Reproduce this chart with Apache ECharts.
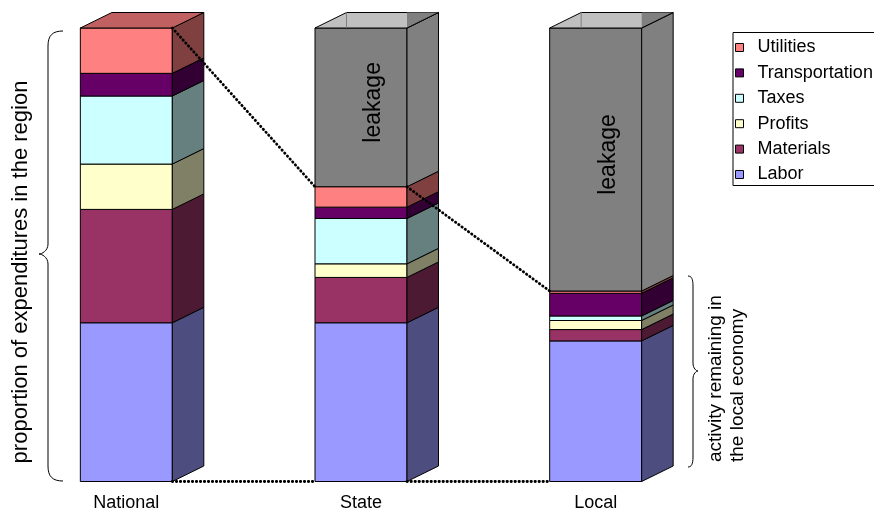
<!DOCTYPE html>
<html>
<head>
<meta charset="utf-8">
<script src="https://cdn.jsdelivr.net/npm/echarts@6/dist/echarts.min.js"></script>
<style>
html,body{margin:0;padding:0;background:#fff;}
#main{width:874px;height:512px;}
</style>
</head>
<body>
<div id="main"></div>
<script>
// values in percent of regional expenditure
var regions = ['National', 'State', 'Local'];
var labor = [35, 35, 31];
var materials = [25, 10, 2.5];
var profits = [10, 3, 2];
var taxes = [15, 10, 1];
var transportation = [5, 2.5, 5];
var utilities = [10, 4.5, 0.5];
var leakage = [0, 35, 58];
var legendNames = ['Utilities', 'Transportation', 'Taxes', 'Profits', 'Materials', 'Labor'];

var FONT = 'Liberation Sans';
var DX = 31.5, DY = 15.5;   // 3d depth offset
var BAR = 0.392;            // bar width / band

// bottom -> top
var stack = [
    {name: 'Labor', values: labor, front: '#9999FF', side: '#4D4D80', top: '#7373BF'},
    {name: 'Materials', values: materials, front: '#993366', side: '#4D1A33', top: '#73264D'},
    {name: 'Profits', values: profits, front: '#FFFFCC', side: '#808066', top: '#BFBF99'},
    {name: 'Taxes', values: taxes, front: '#CCFFFF', side: '#668080', top: '#99BFBF'},
    {name: 'Transportation', values: transportation, front: '#660066', side: '#330033', top: '#4D004D'},
    {name: 'Utilities', values: utilities, front: '#FF8080', side: '#804040', top: '#C06060'},
    {name: 'leakage', values: leakage, front: '#808080', side: '#808080', top: '#C0C0C0', leak: true}
];

var totals = regions.map(function (r, i) {
    return stack.reduce(function (s, k) { return s + k.values[i]; }, 0);
});
var kept = regions.map(function (r, i) { return totals[i] - leakage[i]; });

function boxRender(k) {
    return function (params, api) {
        var ci = api.value(0), lo = api.value(1), hi = api.value(2), tot = api.value(3);
        if (hi - lo <= 0) return;
        var p0 = api.coord([ci, lo]), p1 = api.coord([ci, hi]);
        var bw = api.size([1, 0])[0] * BAR;
        var xl = p0[0] - bw / 2, xr = p0[0] + bw / 2;
        var yb = p0[1], yt = p1[1];
        var kids = [
            {type: 'polygon', shape: {points: [[xl, yt], [xr, yt], [xr, yb], [xl, yb]]},
                style: {fill: k.front, stroke: '#000', lineWidth: 1}},
            {type: 'polygon', shape: {points: [[xr, yt], [xr + DX, yt - DY], [xr + DX, yb - DY], [xr, yb]]},
                style: {fill: k.side, stroke: '#000', lineWidth: 1}}
        ];
        if (hi >= tot - 1e-6) {
            kids.push({type: 'polygon', shape: {points: [[xl, yt], [xl + DX, yt - DY], [xr + DX, yt - DY], [xr, yt]]},
                style: {fill: k.top, stroke: '#000', lineWidth: 1}});
            if (k.leak) {
                kids.push({type: 'polygon', shape: {points: [[xr, yt - DY], [xr + DX, yt - DY], [xr, yt]]},
                    style: {fill: k.side}});
                kids.push({type: 'line', shape: {x1: xl + DX, y1: yt - DY, x2: xl + DX, y2: yt},
                    style: {stroke: '#808080', lineWidth: 1}});
                kids.push({type: 'line', shape: {x1: xr, y1: yt, x2: xr + DX, y2: yt - DY},
                    style: {stroke: '#000', lineWidth: 1}});
            }
        }
        if (k.leak) {
            kids.push({type: 'text', x: p0[0] + 13, y: (yt + yb) / 2 - 5, rotation: Math.PI / 2,
                style: {text: 'leakage', fontSize: 23, fontFamily: FONT, fill: '#000',
                    align: 'center', verticalAlign: 'middle'}});
        }
        return {type: 'group', children: kids};
    };
}

var series = [];
var base = regions.map(function () { return 0; });
stack.forEach(function (k) {
    var data = regions.map(function (r, i) {
        var d = [i, base[i], base[i] + k.values[i], totals[i]];
        base[i] += k.values[i];
        return d;
    });
    series.push({
        name: k.name,
        type: 'custom',
        renderItem: boxRender(k),
        encode: {x: 0, y: [1, 2]},
        itemStyle: {color: k.front, borderColor: '#000', borderWidth: 1},
        data: data,
        z: 2
    });
});

// dotted connectors between columns (kept share and baseline)
var links = [];
for (var i = 0; i < regions.length - 1; i++) {
    links.push([i, kept[i], i + 1, kept[i + 1]]);
    links.push([i, 0, i + 1, 0]);
}
series.push({
    name: 'links',
    type: 'custom',
    z: 5,
    encode: {x: 0, y: 1},
    renderItem: function (params, api) {
        var a = api.coord([api.value(0), api.value(1)]);
        var b = api.coord([api.value(2), api.value(3)]);
        var bw = api.size([1, 0])[0] * BAR;
        return {type: 'line',
            shape: {x1: a[0] + bw / 2, y1: a[1], x2: b[0] - bw / 2, y2: b[1]},
            style: {stroke: '#000', lineWidth: 2.8, lineDash: [0.4, 3.6], lineCap: 'round'}};
    },
    data: links
});

// curly brace made of bezier pieces; x0 = ends, xs = stem, xt = tip
function brace(x0, xs, xt, y0, y1, ym, r, r2) {
    var st = {fill: null, stroke: '#000', lineWidth: 1};
    function bz(a, b, c, d) {
        return {type: 'bezierCurve', z: 10, silent: true, style: st,
            shape: {x1: a[0], y1: a[1], cpx1: b[0], cpy1: b[1], cpx2: c[0], cpy2: c[1], x2: d[0], y2: d[1]}};
    }
    function ln(a, b) {
        return {type: 'line', z: 10, silent: true, style: st, shape: {x1: a[0], y1: a[1], x2: b[0], y2: b[1]}};
    }
    return [
        bz([x0, y0], [xs + (x0 - xs) * 0.3, y0], [xs, y0 + r * 0.3], [xs, y0 + r]),
        ln([xs, y0 + r], [xs, ym - r2]),
        bz([xs, ym - r2], [xs, ym - r2 * 0.3], [xt + (xs - xt) * 0.3, ym], [xt, ym]),
        bz([xt, ym], [xt + (xs - xt) * 0.3, ym], [xs, ym + r2 * 0.3], [xs, ym + r2]),
        ln([xs, ym + r2], [xs, y1 - r]),
        bz([xs, y1 - r], [xs, y1 - r * 0.3], [xs + (x0 - xs) * 0.3, y1], [x0, y1])
    ];
}

var myChart = echarts.init(document.getElementById('main'));
var option = {
    animation: false,
    backgroundColor: '#fff',
    grid: {left: 9, right: 161, top: 28, bottom: 30.5, containLabel: false, outerBoundsMode: 'none'},
    xAxis: {
        type: 'category',
        data: regions,
        axisLine: {show: false},
        axisTick: {show: false},
        splitLine: {show: false},
        axisLabel: {color: '#000', fontSize: 18, fontFamily: FONT, margin: 13}
    },
    yAxis: {type: 'value', min: 0, max: 100, show: false},
    legend: {
        orient: 'vertical',
        left: 733,
        top: 32.5,
        data: legendNames,
        selectedMode: false,
        icon: 'rect',
        itemWidth: 8,
        itemHeight: 8,
        itemGap: 7.4,
        padding: [6, 12, 2, 2],
        borderColor: '#000',
        borderWidth: 1,
        borderRadius: 0,
        itemStyle: {borderColor: '#000', borderWidth: 1},
        textStyle: {color: '#000', fontSize: 18, fontFamily: FONT, lineHeight: 18, padding: [0, 0, 0, 9]}
    },
    graphic: brace(63, 48, 39, 31, 481, 254, 15, 10)
        .concat(brace(688, 693, 698, 276, 467, 371, 10, 8))
        .concat([
        {type: 'text', z: 10, x: 20.5, y: 272, rotation: Math.PI / 2,
            style: {text: 'proportion of expenditures in the region', fontSize: 22, fontFamily: FONT, fill: '#000',
                align: 'center', verticalAlign: 'middle'}},
        {type: 'text', z: 10, x: 727, y: 462, rotation: Math.PI / 2,
            style: {text: 'activity remaining in\nthe local economy', fontSize: 19, lineHeight: 22, fontFamily: FONT, fill: '#000',
                align: 'left', verticalAlign: 'middle'}}
    ]),
    series: series
};
myChart.setOption(option);
window.onresize = myChart.resize;
</script>
</body>
</html>
